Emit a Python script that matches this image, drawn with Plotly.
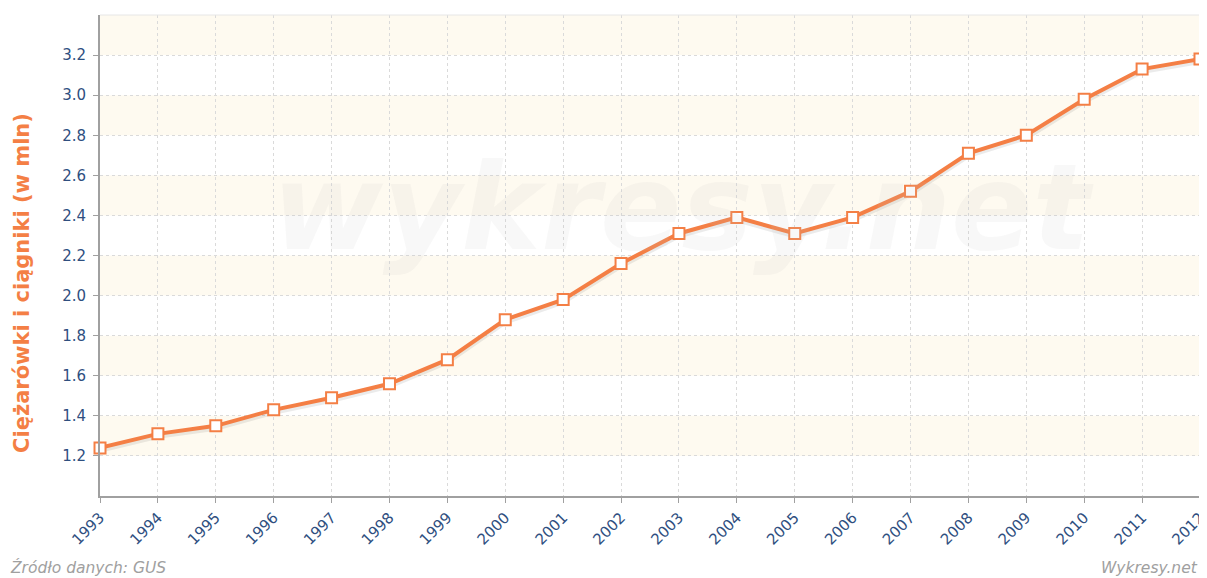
import plotly.graph_objects as go

years = list(range(1993, 2013))
values = [1.24, 1.31, 1.35, 1.43, 1.49, 1.56, 1.68, 1.88, 1.98, 2.16,
          2.31, 2.39, 2.31, 2.39, 2.52, 2.71, 2.80, 2.98, 3.13, 3.18]
band_starts = [1.2, 1.6, 2.0, 2.4, 2.8, 3.2]
y_ticks = [1.2, 1.4, 1.6, 1.8, 2.0, 2.2, 2.4, 2.6, 2.8, 3.0, 3.2]

orange = "#F47F45"
tick_col = "#2F4F7F"

fig = go.Figure()

for b in band_starts:
    fig.add_shape(type="rect", xref="paper", yref="y", x0=0, x1=1, y0=b, y1=b + 0.2,
                  fillcolor="#FEFAF0", line_width=0, layer="below")

fig.add_annotation(text="<b><i>wykresy.net</i></b>", xref="paper", yref="paper",
                   x=0.53, y=0.6, showarrow=False,
                   font=dict(family="DejaVu Sans", size=120, color="rgba(200,200,200,0.12)"))

# shadow
fig.add_trace(go.Scatter(x=years, y=[v - 0.012 for v in values], mode="lines",
                         line=dict(color="rgba(0,0,0,0.08)", width=5),
                         hoverinfo="skip", showlegend=False))
fig.add_trace(go.Scatter(x=years, y=values, mode="lines+markers",
                         line=dict(color=orange, width=4),
                         marker=dict(symbol="square", size=11, color="white",
                                     line=dict(color=orange, width=2)),
                         showlegend=False, cliponaxis=False))

fig.update_xaxes(range=[1992.9999, 2012.0001], tickmode="array", tickvals=years,
                 ticktext=[str(y) for y in years], tickangle=-45, automargin=False,
                 ticklabeloverflow="allow",
                 tickfont=dict(family="DejaVu Sans", size=15, color=tick_col),
                 showgrid=True, gridcolor="#DADADA", griddash="dot", gridwidth=1,
                 showline=True, linecolor="#A0A0A0", linewidth=2,
                 ticks="outside", ticklen=5, tickcolor="#A0A0A0", zeroline=False)
fig.update_yaxes(range=[1.0, 3.4], tickmode="array", tickvals=y_ticks,
                 ticktext=[f"{t:.1f}" for t in y_ticks], automargin=False,
                 tickfont=dict(family="DejaVu Sans", size=15, color=tick_col),
                 ticklabelstandoff=4,
                 showgrid=True, gridcolor="#DADADA", griddash="dot", gridwidth=1,
                 showline=True, linecolor="#A0A0A0", linewidth=2,
                 ticks="outside", ticklen=5, tickcolor="#A0A0A0", zeroline=False)

fig.add_annotation(text="<b>Ciężarówki i ciągniki (w mln)</b>", xref="paper", yref="paper",
                   x=-0.0709, y=0.443, xanchor="center", yanchor="middle", textangle=-90,
                   showarrow=False,
                   font=dict(family="DejaVu Sans", size=21, color=orange))

fig.add_shape(type="line", xref="paper", yref="paper", x0=0, x1=1, y0=1, y1=1,
              line=dict(color="#E6E6E6", width=1))

fig.add_annotation(text="<i>Źródło danych: GUS</i>", xref="paper", yref="paper",
                   x=-0.0836, y=-0.149, xanchor="left", yanchor="middle", showarrow=False,
                   font=dict(family="DejaVu Sans", size=15.5, color="#A0A0A0"))
fig.add_annotation(text="<i>Wykresy.net</i>", xref="paper", yref="paper",
                   x=1.0, y=-0.149, xanchor="right", yanchor="middle", showarrow=False,
                   font=dict(family="DejaVu Sans", size=15.5, color="#A0A0A0"))

# page body has an 8px margin, so the figure is sized/offset to compensate
fig.update_layout(width=1199, height=570, margin=dict(l=92, r=7, t=7, b=82),
                  plot_bgcolor="white", paper_bgcolor="white")

fig.write_html("out.html")
